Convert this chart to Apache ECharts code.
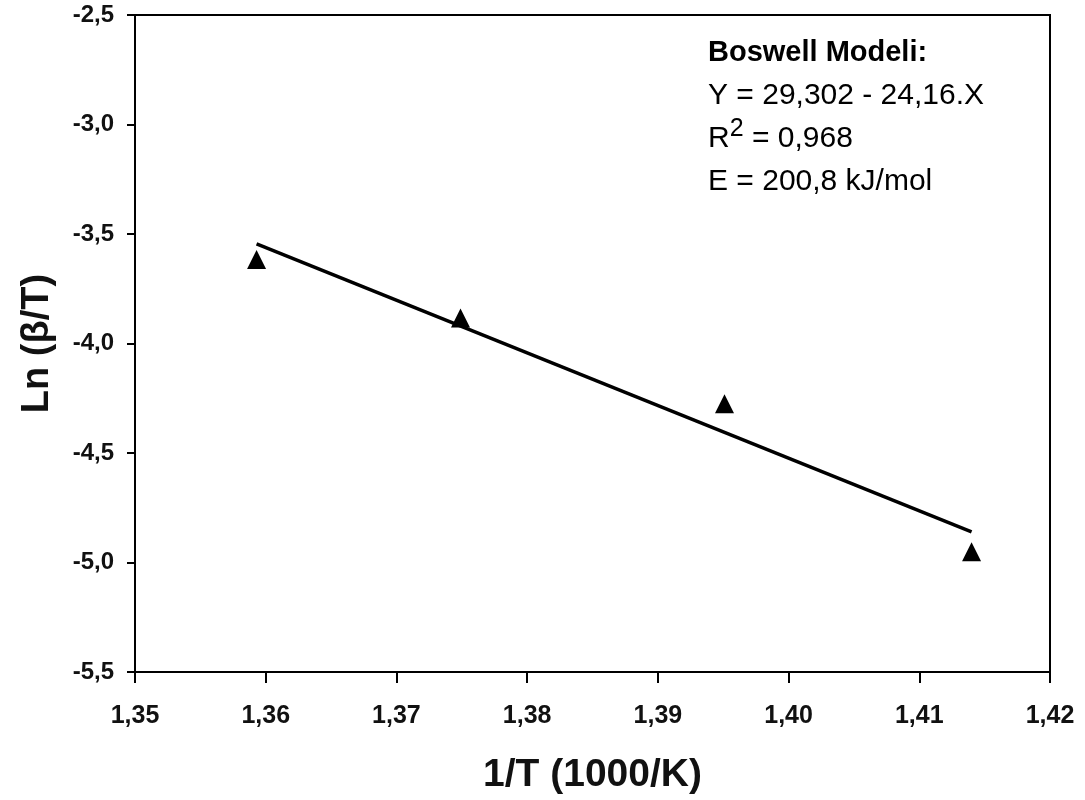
<!DOCTYPE html>
<html>
<head>
<meta charset="utf-8">
<script src="https://cdn.jsdelivr.net/npm/echarts@6/dist/echarts.min.js"></script>
<style>html,body{margin:0;padding:0;background:#fff}#c{width:1085px;height:800px}</style>
</head>
<body>
<div id="c"></div>
<script>
const xData = [1.3593, 1.3749, 1.3951, 1.4140];
const yData = [-3.617, -3.884, -4.275, -4.951];
const fitX = [1.3593, 1.4140];
const fitY = [-3.545, -4.860];
const xTitle = '1/T (1000/K)';
const yTitle = 'Ln (β/T)';
const noteTitle = 'Boswell Modeli:';
const noteLines = ['Y = 29,302 - 24,16.X', 'R{sup|2} = 0,968', 'E = 200,8 kJ/mol'];

const chart = echarts.init(document.getElementById('c'), null, {renderer: 'canvas'});
const font = 'Liberation Sans, Arial, sans-serif';
chart.setOption({
  animation: false,
  backgroundColor: '#fff',
  grid: {left: 135, right: 35, top: 15, bottom: 124, show: true, borderColor: '#000', borderWidth: 2, backgroundColor: 'transparent'},
  xAxis: {
    type: 'value', min: 1.35, max: 1.42, interval: 0.01,
    name: xTitle, nameLocation: 'middle', nameGap: 84,
    nameTextStyle: {fontFamily: font, fontWeight: 'bold', fontSize: 39, color: '#111'},
    axisLine: {show: true, onZero: false, lineStyle: {color: '#000', width: 2}},
    axisTick: {show: true, length: 11, lineStyle: {color: '#000', width: 2}},
    axisLabel: {margin: 32, fontFamily: font, fontWeight: 'bold', fontSize: 25, color: '#111',
      formatter: v => v.toFixed(2).replace('.', ',')},
    splitLine: {show: false}
  },
  yAxis: {
    type: 'value', min: -5.5, max: -2.5, interval: 0.5,
    name: yTitle, nameLocation: 'middle', nameGap: 78, nameRotate: 90,
    nameTextStyle: {fontFamily: font, fontWeight: 'bold', fontSize: 38, color: '#111', padding: [0, 0, 0, 0]},
    axisLine: {show: true, onZero: false, lineStyle: {color: '#000', width: 2}},
    axisTick: {show: true, length: 8, lineStyle: {color: '#000', width: 2}},
    axisLabel: {margin: 21, fontFamily: font, fontWeight: 'bold', fontSize: 24, color: '#111',
      formatter: v => v.toFixed(1).replace('.', ',')},
    splitLine: {show: false}
  },
  graphic: [{
    type: 'text', left: 708, top: 38, z: 10,
    style: {
      text: '{b|' + noteTitle + '}\n' + noteLines.map(l => '{n|' + l.replace(/\{sup\|2\}/, '}{sup|2}{n|') + '}').join('\n'),
      rich: {
        b: {fontFamily: font, fontWeight: 'bold', fontSize: 29, color: '#111', lineHeight: 43},
        n: {fontFamily: font, fontSize: 30, color: '#111', lineHeight: 43},
        sup: {fontFamily: font, fontSize: 25, color: '#111', lineHeight: 43, verticalAlign: 'top', padding: [0, 0, 12, 0]}
      }
    }
  }],
  series: [{
    type: 'line', data: fitX.map((x, i) => [x, fitY[i]]),
    symbol: 'none', lineStyle: {color: '#000', width: 3.5}, z: 2
  }, {
    type: 'scatter', data: xData.map((x, i) => [x, yData[i]]),
    symbol: 'triangle', symbolSize: 19, itemStyle: {color: '#000', opacity: 1}, z: 3
  }]
});
</script>
</body>
</html>
